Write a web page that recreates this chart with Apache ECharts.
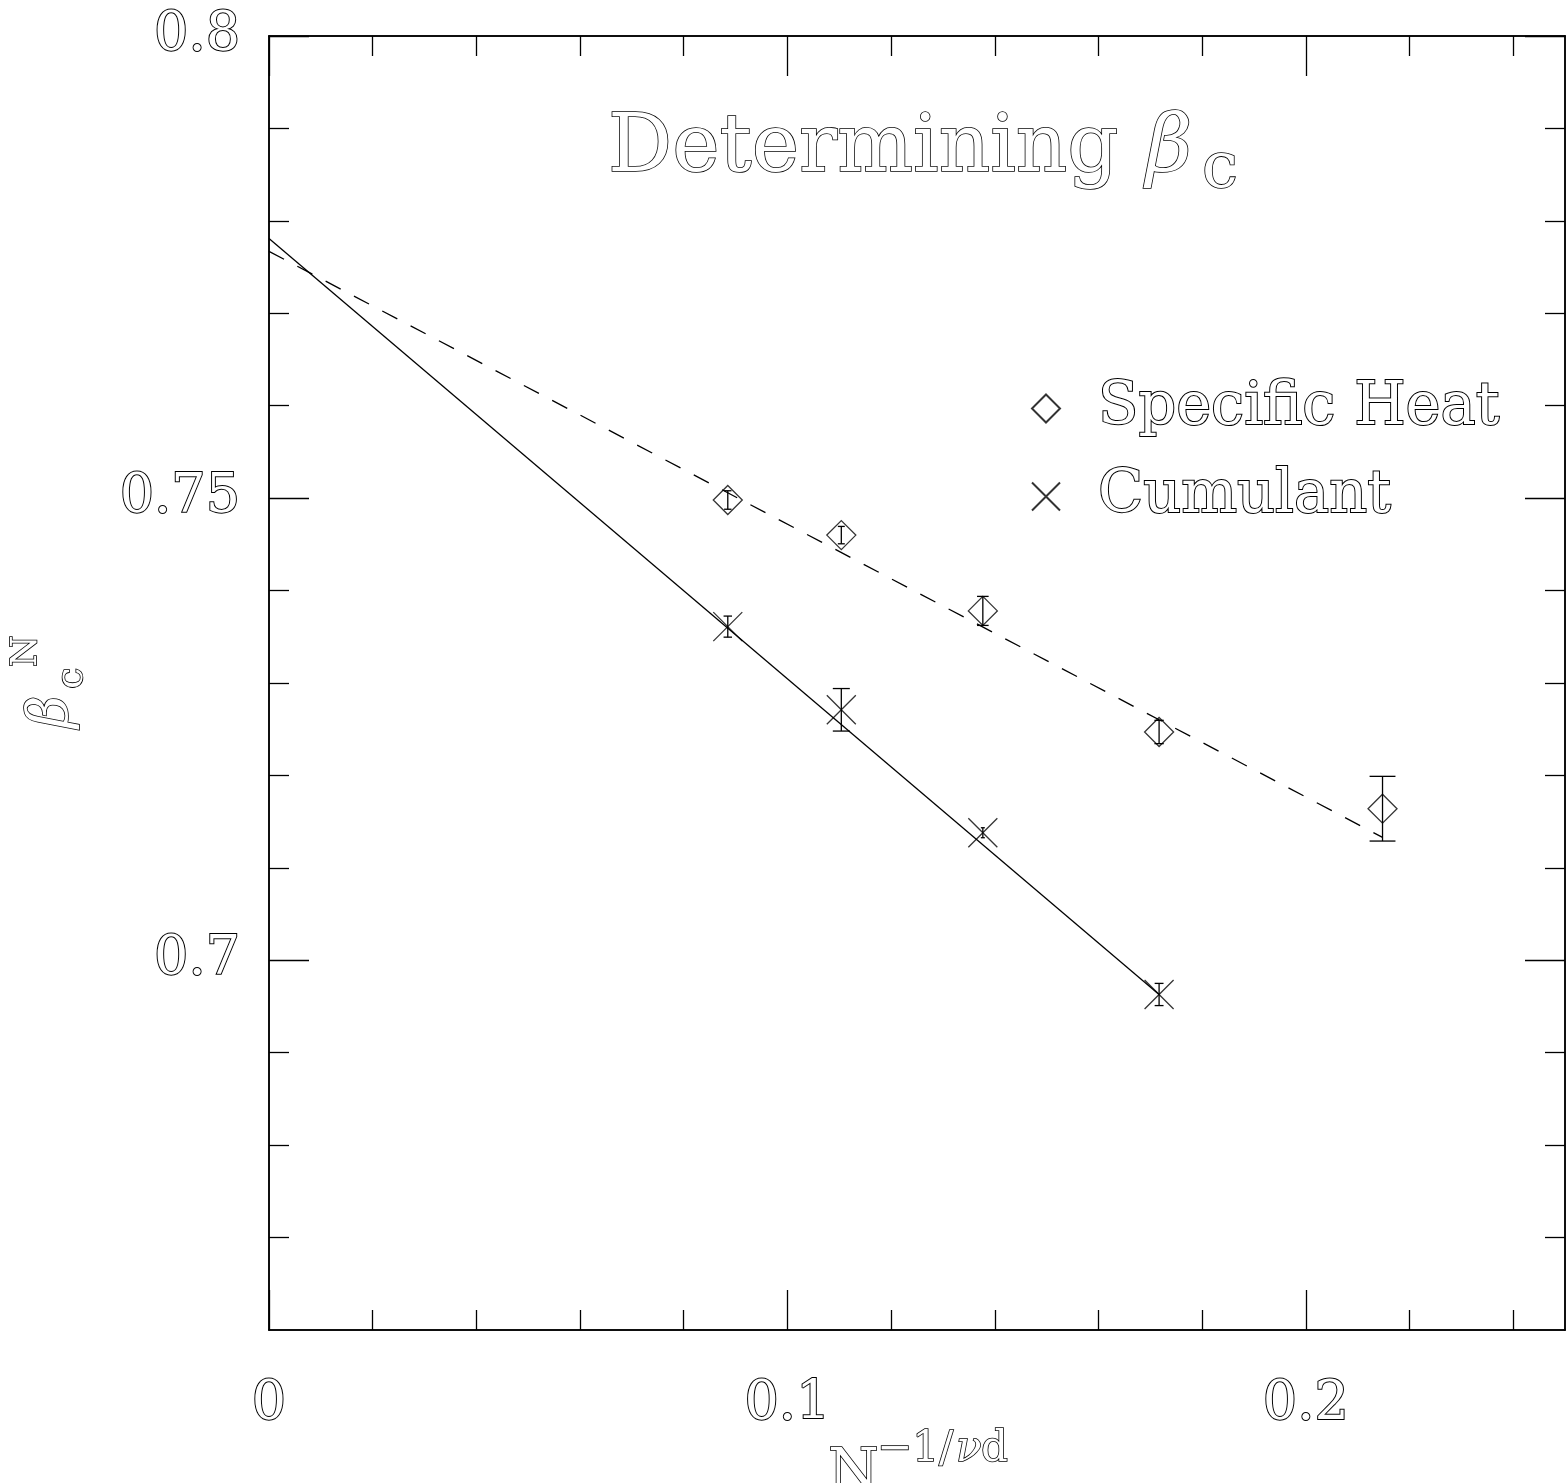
<!DOCTYPE html>
<html>
<head>
<meta charset="utf-8">
<script src="https://cdn.jsdelivr.net/npm/echarts@6/dist/echarts.min.js"></script>
<style>
html,body{margin:0;padding:0;background:#fff;}
#chart{width:1567px;height:1483px;}
</style>
</head>
<body>
<div id="chart"></div>
<script>
// ---------- data ----------
const shX   = [0.0885, 0.1104, 0.1377, 0.1717, 0.2148];
const shY   = [0.7498, 0.7460, 0.7378, 0.7247, 0.7164];
const shErr = [0.0010, 0.00094, 0.00157, 0.00126, 0.0035];

const cuX   = [0.0885, 0.1104, 0.1377, 0.1717];
const cuY   = [0.7361, 0.7271, 0.7138, 0.6963];
const cuErr = [0.00114, 0.0023, 0.00054, 0.0012];

// fitted lines (end points)
const fitCuX = [0, 0.1717];
const fitCuY = [0.7781, 0.6963];
const fitShX = [0, 0.2148];
const fitShY = [0.7767, 0.7133];

// axis ticks
const xMajorTicks = [0, 0.1, 0.2];
const xMinorTicks = [0.02, 0.04, 0.06, 0.08, 0.12, 0.14, 0.16, 0.18, 0.22, 0.24];
const yMajorTicks = [0.7, 0.75, 0.8];
const yMinorTicks = [0.67, 0.68, 0.69, 0.71, 0.72, 0.73, 0.74, 0.76, 0.77, 0.78, 0.79];

const FONT = 'DejaVu Serif';
const zip = (a, b, c) => a.map((v, i) => c ? [v, b[i], c[i]] : [v, b[i]]);

function xAx(pos, ticks, len, labels) {
  return {
    type: 'value', position: pos, min: 0, max: 0.25, offset: 0,
    axisLine: { show: true, onZero: false, lineStyle: { color: '#000', width: 1.5 } },
    axisTick: { show: true, inside: true, length: len, customValues: ticks, lineStyle: { color: '#000', width: 1.3 } },
    axisLabel: {
      show: labels, customValues: xMajorTicks, margin: 48,
      fontFamily: FONT, fontSize: 54, lineHeight: 54,
      color: '#fff', textBorderColor: '#000', textBorderWidth: 2,
      formatter: v => String(+v.toFixed(2))
    },
    splitLine: { show: false }, minorTick: { show: false }
  };
}
function yAx(pos, ticks, len, labels) {
  return {
    type: 'value', position: pos, min: 0.66, max: 0.8, offset: 0,
    axisLine: { show: true, onZero: false, lineStyle: { color: '#000', width: 1.5 } },
    axisTick: { show: true, inside: true, length: len, customValues: ticks, lineStyle: { color: '#000', width: 1.3 } },
    axisLabel: {
      show: labels, customValues: yMajorTicks, margin: 29,
      fontFamily: FONT, fontSize: 54, lineHeight: 54,
      color: '#fff', textBorderColor: '#000', textBorderWidth: 2,
      formatter: v => String(+v.toFixed(2))
    },
    splitLine: { show: false }, minorTick: { show: false }
  };
}

function errorBars(data) {
  return {
    type: 'custom', xAxisIndex: 0, yAxisIndex: 0, silent: true, z: 3,
    data: data,
    renderItem: function (params, api) {
      const x = api.value(0), y = api.value(1), e = api.value(2);
      const top = api.coord([x, y + e]);
      const bot = api.coord([x, y - e]);
      const half = Math.max(2, 0.4 * (bot[1] - top[1]) / 2);
      const st = { stroke: '#000', lineWidth: 1.3 };
      return {
        type: 'group',
        children: [
          { type: 'line', shape: { x1: top[0], y1: top[1], x2: bot[0], y2: bot[1] }, style: st },
          { type: 'line', shape: { x1: top[0] - half, y1: top[1], x2: top[0] + half, y2: top[1] }, style: st },
          { type: 'line', shape: { x1: bot[0] - half, y1: bot[1], x2: bot[0] + half, y2: bot[1] }, style: st }
        ]
      };
    }
  };
}

const chart = echarts.init(document.getElementById('chart'), null, { renderer: 'canvas' });

const txt = (x, y, text, size, extra) => Object.assign({
  type: 'text', x: x, y: y, silent: true,
  style: Object.assign({
    text: text, fontFamily: FONT, fontSize: size,
    fill: '#fff', stroke: '#000', lineWidth: 1.6,
    align: 'left', verticalAlign: 'middle'
  }, extra && extra.style || {})
}, extra && extra.el || {});

const option = {
  animation: false,
  backgroundColor: '#fff',
  grid: { left: 269, right: 2, top: 36, bottom: 153, containLabel: false },
  xAxis: [
    xAx('bottom', xMajorTicks, 40, true),
    xAx('bottom', xMinorTicks, 20, false),
    xAx('top', xMajorTicks, 40, false),
    xAx('top', xMinorTicks, 20, false)
  ],
  yAxis: [
    yAx('left', yMajorTicks, 40, true),
    yAx('left', yMinorTicks, 20, false),
    yAx('right', yMajorTicks, 40, false),
    yAx('right', yMinorTicks, 20, false)
  ],
  legend: {
    orient: 'vertical', left: 1026, top: 373,
    itemWidth: 28, itemHeight: 28, itemGap: 27,
    selectedMode: false,
    data: ['Specific Heat', 'Cumulant'],
    textStyle: {
      fontFamily: FONT, fontSize: 59, lineHeight: 60,
      color: '#fff', textBorderColor: '#000', textBorderWidth: 2,
      padding: [0, 0, 0, 33]
    }
  },
  series: [
    {
      name: 'fitCumulant', type: 'line', xAxisIndex: 0, yAxisIndex: 0,
      data: zip(fitCuX, fitCuY), showSymbol: false, symbol: 'none', silent: true,
      lineStyle: { color: '#000', width: 1.3, type: 'solid' }, z: 2
    },
    {
      name: 'fitSpecificHeat', type: 'line', xAxisIndex: 0, yAxisIndex: 0,
      data: zip(fitShX, fitShY), showSymbol: false, symbol: 'none', silent: true,
      lineStyle: { color: '#000', width: 1.3, type: [17, 15] }, z: 2
    },
    errorBars(zip(shX, shY, shErr)),
    errorBars(zip(cuX, cuY, cuErr)),
    {
      name: 'Specific Heat', type: 'scatter', xAxisIndex: 0, yAxisIndex: 0,
      data: zip(shX, shY), symbol: 'diamond', symbolSize: 29,
      itemStyle: { color: 'transparent', borderColor: '#000', borderWidth: 1.3 }, z: 4
    },
    {
      name: 'Cumulant', type: 'scatter', xAxisIndex: 0, yAxisIndex: 0,
      data: zip(cuX, cuY), symbol: 'path://M0,0L10,10M10,0L0,10', symbolSize: 29,
      itemStyle: { color: 'transparent', borderColor: '#000', borderWidth: 1.3 }, z: 4
    }
  ],
  graphic: [
    // title
    txt(608, 150, 'Determining', 80),
    txt(1146, 150, 'β', 80, { style: { fontStyle: 'italic' } }),
    txt(1202, 170, 'c', 64),
    // y axis name (rotated)
    txt(52, 728, 'β', 56, { el: { rotation: Math.PI / 2 }, style: { fontStyle: 'italic' } }),
    txt(72, 689, 'c', 38, { el: { rotation: Math.PI / 2 } }),
    txt(27, 667, 'N', 36, { el: { rotation: Math.PI / 2 } }),
    // x axis name (partly cut by page bottom)
    txt(678, 1499, 'Figure 10:', 30),
    txt(828, 1474, 'N', 58),
    txt(875, 1495, 's', 40),
    txt(877, 1450, '−1/', 42),
    txt(956, 1450, 'ν', 42, { style: { fontStyle: 'italic' } }),
    txt(981, 1450, 'd', 42)
  ]
};
chart.setOption(option);
</script>
</body>
</html>
